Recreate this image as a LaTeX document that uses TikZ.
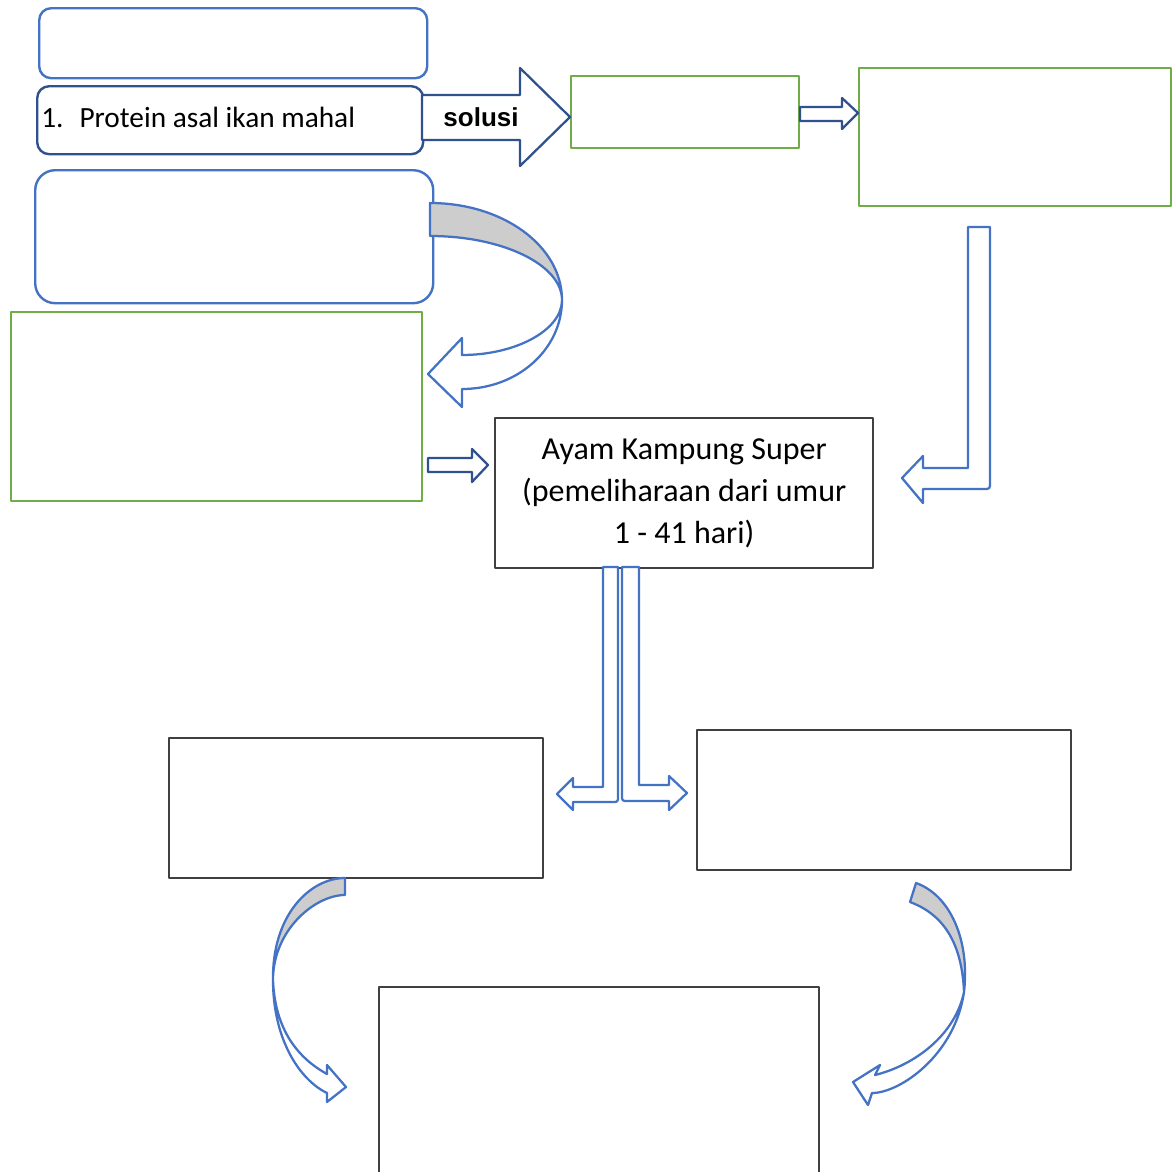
\documentclass[tikz,border=0pt]{standalone}
\usepackage{fontspec}
\setmainfont{Carlito}
\newfontfamily\tebal{Liberation Sans}
\usepackage{tikz}
\definecolor{birumuda}{RGB}{68,114,196}
\definecolor{birutua}{RGB}{47,82,143}
\definecolor{hijau}{RGB}{112,173,71}
\definecolor{abu}{RGB}{64,64,64}
\definecolor{bayang}{RGB}{205,205,205}

\begin{document}
\begin{tikzpicture}[x=0.75pt, y=-0.75pt, line join=round,
    kotak/.style={draw=abu, line width=1.8pt, anchor=north west, inner sep=0pt,
                  font=\fontsize{24}{31.5}\selectfont},
    kotakbiru/.style={kotak, draw=birumuda, rounded corners=9pt},
    kotakhijau/.style={kotak, draw=hijau},
    panah/.style={draw=birutua, line width=1.7pt, fill=white},
    lengkung/.style={draw=birumuda, line width=1.7pt, fill=white},
    balik/.style={lengkung, fill=bayang}]

\useasboundingbox (0,0) rectangle (1173,1171);
\clip (0,0) rectangle (1173,1171);

\node[kotakbiru, minimum width=291pt, minimum height=52.5pt] (atas) at (38,7) {};
\node[kotakbiru, draw=birutua, minimum width=289.5pt, minimum height=51pt] (masalah) at (36,85) {};
\node[anchor=base west, inner sep=0pt, font=\fontsize{22}{26}\selectfont] (teks) at (41,127)
      {1.\hspace{12pt}Protein asal ikan mahal};
\node[kotakhijau, minimum width=171pt, minimum height=54pt] (solusi) at (570,75) {};
\node[kotakhijau, minimum width=234pt, minimum height=103.5pt] (hasil) at (858,67) {};
\node[kotakbiru, rounded corners=15pt, minimum width=298.5pt, minimum height=99.75pt] (kendala) at (34,169) {};
\node[kotakhijau, minimum width=308.25pt, minimum height=141.75pt] (pakan) at (10,311) {};
\node[kotak, minimum width=283.5pt, minimum height=112.5pt, align=center] (ayam) at (494,417)
      {Ayam Kampung Super\\(pemeliharaan dari umur\\1 - 41 hari)};
\node[kotak, minimum width=280.5pt, minimum height=105pt] (kiri) at (168,737) {};
\node[kotak, minimum width=280.5pt, minimum height=105pt] (kanan) at (696,729) {};
\node[kotak, minimum width=330pt, minimum height=160pt] (bawah) at (378,986) {};

\draw[panah] (422,95) -- (520,95) -- (520,68) -- (570,117) -- (520,166) -- (520,140) -- (422,140) -- cycle;
\node[font=\tebal\bfseries\fontsize{19.5}{20}\selectfont] (kata) at (481,117) {solusi};

\draw[panah] (800,107) -- (842,107) -- (842,98) -- (858,113) -- (842,129) -- (842,121) -- (800,121) -- cycle;
\draw[panah] (428,458) -- (472,458) -- (472,449) -- (488,465) -- (472,482) -- (472,472) -- (428,472) -- cycle;

\draw[lengkung] (968,227) -- (990,227) -- (990,482) .. controls (990,489) .. (983,489) -- (923,489)
    -- (923,503) -- (902,478) -- (923,456) -- (923,468) -- (968,468) -- cycle;

\draw[lengkung] (603,567) -- (618,567) -- (618,796) .. controls (618,802) .. (612,802) -- (573,802)
    -- (573,810) -- (557,794) -- (573,778) -- (573,787) -- (603,787) -- cycle;
\draw[lengkung] (639,567) -- (639,785) -- (669,785) -- (669,776) -- (687,793) -- (669,810)
    -- (669,801) -- (628,801) .. controls (622,801) .. (622,795) -- (622,567) -- cycle;

\draw[lengkung] (562,300) .. controls (562,349) and (518,389) .. (462,389) -- (462,407) -- (428,374)
    -- (462,338) -- (462,355) .. controls (516,355) and (562,330) .. (562,300) -- cycle;
\draw[balik] (430,203) .. controls (503,203) and (562,246) .. (562,300)
    .. controls (562,265) and (503,236) .. (430,236) -- cycle;

\draw[lengkung] (273,980) .. controls (273,1040) and (300,1080) .. (327,1093) -- (327,1102) -- (346,1087)
    -- (327,1065) -- (327,1074) .. controls (298,1058) and (275,1030) .. (273,980) -- cycle;
\draw[balik] (345,878) .. controls (310,878) and (272,915) .. (273,980)
    .. controls (273,930) and (315,895) .. (345,895) -- cycle;

\draw[lengkung] (964,992) .. controls (955,1055) and (900,1093) .. (872,1093) -- (868,1105) -- (853,1082)
    -- (880,1065) -- (875,1075) .. controls (915,1065) and (955,1035) .. (964,992) -- cycle;
\draw[balik] (916,883) .. controls (950,895) and (970,940) .. (964,992)
    .. controls (962,945) and (945,915) .. (910,902) -- cycle;
\end{tikzpicture}
\end{document}
